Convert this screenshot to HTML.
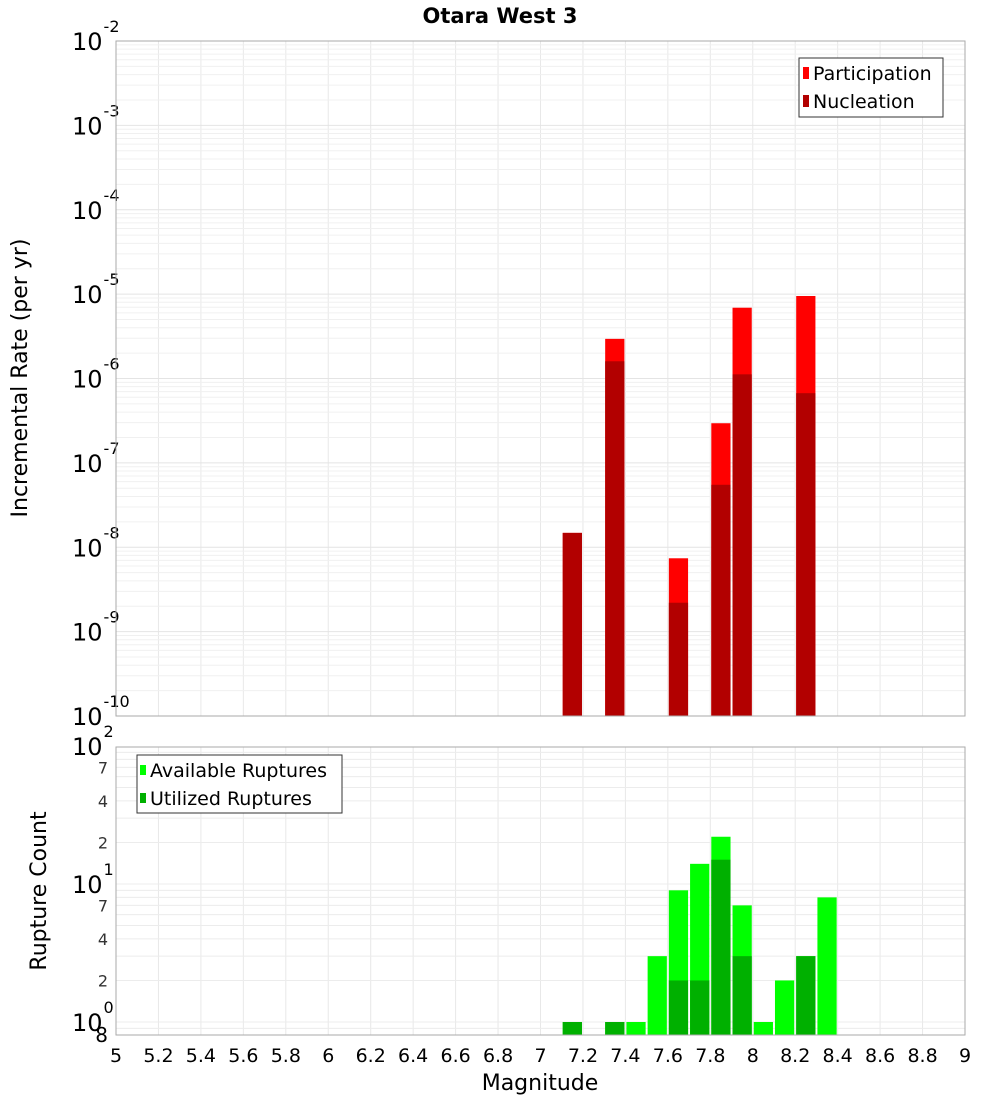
<!DOCTYPE html>
<html><head><meta charset="utf-8"><style>
body{margin:0;background:#fff;}
svg text{font-family:"DejaVu Sans","Liberation Sans",sans-serif;}
</style></head><body>
<svg id="chart" width="1000" height="1100" xmlns="http://www.w3.org/2000/svg">
<text x="500" y="23" text-anchor="middle" font-size="21" font-weight="bold">Otara West 3</text>
<g id="topplot"></g><g id="botplot"></g>
<text transform="translate(27,378) rotate(-90)" text-anchor="middle" font-size="22">Incremental Rate (per yr)</text>
<text transform="translate(46,891) rotate(-90)" text-anchor="middle" font-size="22">Rupture Count</text>
<text x="540" y="1090" text-anchor="middle" font-size="22">Magnitude</text>
</svg>
<script>
const mags=[7.15,7.35,7.65,7.85,7.95,8.25];
const participation=[1.48e-8,2.95e-6,7.4e-9,2.95e-7,6.9e-6,9.5e-6];
const nucleation=[1.48e-8,1.6e-6,2.2e-9,5.5e-8,1.12e-6,6.7e-7];
const cMags=[7.15,7.35,7.45,7.55,7.65,7.75,7.85,7.95,8.05,8.15,8.25,8.35];
const available=[1,1,1,3,9,14,22,7,1,2,3,8];
const utilized=[1,1,0,0,2,2,15,3,0,0,3,0];
const xTicks=[5,5.2,5.4,5.6,5.8,6,6.2,6.4,6.6,6.8,7,7.2,7.4,7.6,7.8,8,8.2,8.4,8.6,8.8,9];

const NS="http://www.w3.org/2000/svg";
const X0=116,X1=965;
const x=m=>X0+(m-5)/4*(X1-X0);
const T0=41,T1=716; const yT=v=>T0+(-2-Math.log10(v))*(T1-T0)/8;
const B0=747,B1=1035; const bDec=138, b2=746; const yB=v=>b2+(2-Math.log10(v))*bDec;
function el(p,tag,a,txt){const e=document.createElementNS(NS,tag);for(const k in a)e.setAttribute(k,a[k]);if(txt!=null)e.textContent=txt;p.appendChild(e);return e;}
const gTop=document.getElementById('topplot'),gBot=document.getElementById('botplot');

function frame(g,y0,y1){
  for(const t of xTicks){const l=el(g,'line',{x1:x(t),x2:x(t),y1:y0,y2:y1,stroke:'#e8e8e8'});
  
  }
}
frame(gTop,T0,T1);
for(let d=-10;d<-2;d++)for(let k=1;k<10;k++){const y=yT(k*Math.pow(10,d));
  const l=el(gTop,'line',{x1:X0,x2:X1,y1:y,y2:y,stroke:k==1?'#e4e4e4':'#f0f0f0'});
  
  }
for(let d=-2;d>=-10;d--){const y=yT(Math.pow(10,d));
  const t=el(gTop,'text',{x:72,y:y+9,'font-size':24});
  
  
  t.textContent='10';
  el(t,'tspan',{dx:1,dy:-18,'font-size':16},String(d));}
const bw=x(5.1)-x(5)-2;
mags.forEach((m,i)=>{
  const r=el(gTop,'rect',{x:x(m)-bw/2,y:yT(participation[i]),width:bw,height:T1-yT(participation[i]),fill:'#ff0000'});
  
  
  const n=el(gTop,'rect',{x:x(m)-bw/2,y:yT(nucleation[i]),width:bw,height:T1-yT(nucleation[i]),fill:'#b20000'});
  
  
});
el(gTop,'rect',{x:X0,y:T0,width:X1-X0,height:T1-T0,fill:'none',stroke:'#aaa'});
const lg=el(gTop,'g',{});


el(lg,'rect',{x:799,y:58,width:144,height:59,fill:'#fff',stroke:'#333'});
el(lg,'rect',{x:803,y:67,width:6,height:12,fill:'#ff0000'});
el(lg,'text',{x:813,y:80,'font-size':19},'Participation');
el(lg,'rect',{x:803,y:95,width:6,height:12,fill:'#b20000'});
el(lg,'text',{x:813,y:108,'font-size':19},'Nucleation');

frame(gBot,B0,B1);
for(let d=-1;d<2;d++)for(let k=1;k<10;k++){const v=k*Math.pow(10,d);const y=yB(v);if(y>B1||y<B0)continue;
  const l=el(gBot,'line',{x1:X0,x2:X1,y1:y,y2:y,stroke:'#ececec'});
  
  }
for(let d=2;d>=0;d--){const y=yB(Math.pow(10,d));
  const t=el(gBot,'text',{x:72,y:y+9,'font-size':24});
  
  
  t.textContent='10';
  el(t,'tspan',{dx:1,dy:-18,'font-size':16},String(d));}
[[7,10],[4,10],[2,10],[7,1],[4,1],[2,1]].forEach(([k,s])=>{const t=el(gBot,'text',{x:108,y:yB(k*s)+6,'font-size':16,'text-anchor':'end',fill:'#333'},String(k));
  
  });
{const t=el(gBot,'text',{x:108,y:1042,'font-size':20,'text-anchor':'end'},'8');
 
 }
cMags.forEach((m,i)=>{
  if(available[i]>0){const r=el(gBot,'rect',{x:x(m)-bw/2,y:yB(available[i]),width:bw,height:B1-yB(available[i]),fill:'#00ff00'});
  
  }
  if(utilized[i]>0){const r=el(gBot,'rect',{x:x(m)-bw/2,y:yB(utilized[i]),width:bw,height:B1-yB(utilized[i]),fill:'#00b000'});
  
  }
});
el(gBot,'rect',{x:X0,y:B0,width:X1-X0,height:B1-B0,fill:'none',stroke:'#aaa'});
const lb=el(gBot,'g',{});


el(lb,'rect',{x:137,y:755,width:205,height:58,fill:'#fff',stroke:'#333'});
el(lb,'rect',{x:140,y:765,width:6,height:10,fill:'#00ff00'});
el(lb,'text',{x:150,y:777,'font-size':19},'Available Ruptures');
el(lb,'rect',{x:140,y:793,width:6,height:10,fill:'#00b000'});
el(lb,'text',{x:150,y:805,'font-size':19},'Utilized Ruptures');
xTicks.forEach(t=>{const e=el(gBot,'text',{x:x(t),y:1062,'font-size':19,'text-anchor':'middle'},String(t));
  
  });
</script>
</body></html>
